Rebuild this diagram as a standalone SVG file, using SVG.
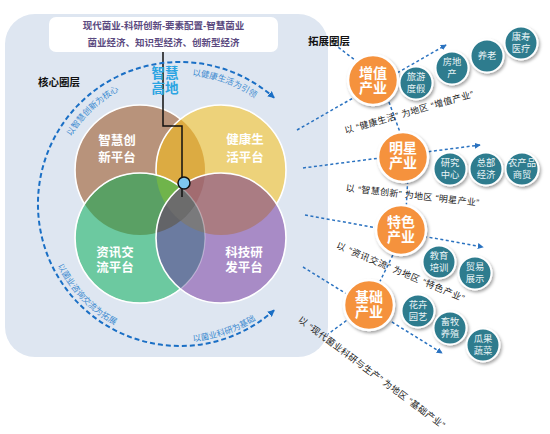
<svg xmlns="http://www.w3.org/2000/svg" width="550" height="434" viewBox="0 0 550 434">
<style>
.cn{font-family:'Liberation Sans','Noto Sans CJK SC',sans-serif}
.plat{font-size:12.5px;font-weight:bold;fill:#fff;text-anchor:middle}
.arct{font-size:8.4px;fill:#3d8bd0}
.ora{font-size:14px;font-weight:bold;fill:#fff;text-anchor:middle}
.tea{font-size:9.3px;fill:#eaf4f6;text-anchor:middle}
.lab{font-size:9px;fill:#222;text-anchor:middle}
.dash{fill:none;stroke:#2a72c0;stroke-width:1.5;stroke-dasharray:3 2.5}
.oc{fill:#f5923e;stroke:#fff;stroke-width:2.5;filter:url(#sh)}
.tc{fill:#2d7b8e;stroke:#fff;stroke-width:2;filter:url(#sh)}
.ring{fill:none;stroke:#fff;stroke-width:1.6}
</style>
<defs>
<filter id="sh" x="-30%" y="-30%" width="170%" height="170%"><feDropShadow dx="1.5" dy="2" stdDeviation="1.5" flood-color="#000" flood-opacity="0.35"/></filter>
<marker id="ah" viewBox="0 0 8 8" refX="7" refY="4" markerWidth="7" markerHeight="7" markerUnits="userSpaceOnUse" orient="auto-start-reverse"><path d="M0,0 L8,4 L0,8 z" fill="#1a6fc5"/></marker>
<marker id="ah2" viewBox="0 0 8 8" refX="7" refY="4" markerWidth="6" markerHeight="6" markerUnits="userSpaceOnUse" orient="auto"><path d="M0,0 L8,4 L0,8 z" fill="#2a72c0"/></marker>
<clipPath id="cB"><circle cx="140" cy="170" r="65"/></clipPath>
<clipPath id="cY"><circle cx="221" cy="170" r="65"/></clipPath>
<clipPath id="cG"><circle cx="140" cy="238" r="65"/></clipPath>
<clipPath id="cP"><circle cx="221" cy="238" r="65"/></clipPath>
<path id="tp1" d="M71,136.6 A129,129 0 0 1 147.6,79.4"/>
<path id="tp2" d="M192.2,75.5 A129,129 0 0 1 279.8,121.1"/>
<path id="tp3" d="M57.5,265.6 A138,138 0 0 0 157,339.9"/>
<path id="tp4" d="M193,341.5 A138,138 0 0 0 286.7,292.7"/>
</defs>
<rect width="550" height="434" fill="#fff"/>
<rect x="5" y="14" width="323" height="343" rx="30" fill="#dee6f1"/>

<g id="top-box">
<rect x="49" y="17" width="229" height="35" rx="7" fill="#fff"/>
<text class="cn" x="163.5" y="28.5" font-size="9.5" font-weight="bold" fill="#5b4a80" text-anchor="middle">现代菌业-科研创新-要素配置-智慧菌业</text>
<text class="cn" x="163.5" y="45.5" font-size="9.5" font-weight="bold" fill="#5b4a80" text-anchor="middle">菌业经济、知识型经济、创新型经济</text>
</g>

<g id="venn">
<circle cx="140" cy="170" r="65" fill="#b8937b" stroke="#fff" stroke-width="1.6"/>
<circle cx="221" cy="170" r="65" fill="#edd27a"/>
<circle cx="221" cy="170" r="65" fill="#dcab42" clip-path="url(#cB)"/>
<circle cx="221" cy="170" r="65" class="ring"/>
<circle cx="140" cy="238" r="65" fill="#6cc9a0"/>
<circle cx="140" cy="238" r="65" fill="#5aa064" clip-path="url(#cB)"/>
<circle cx="140" cy="238" r="65" fill="#70b44b" clip-path="url(#cY)"/>
<circle cx="140" cy="238" r="65" class="ring"/>
<circle cx="221" cy="238" r="65" fill="#a88bc6"/>
<circle cx="221" cy="238" r="65" fill="#aa7c83" clip-path="url(#cY)"/>
<g clip-path="url(#cB)"><circle cx="221" cy="238" r="65" fill="#a26c70" clip-path="url(#cY)"/></g>
<circle cx="221" cy="238" r="65" fill="#6b7ba0" clip-path="url(#cG)"/>
<g clip-path="url(#cY)"><circle cx="221" cy="238" r="65" fill="#7a7a7c" clip-path="url(#cG)"/></g>
<g clip-path="url(#cB)"><circle cx="221" cy="238" r="65" fill="#636468" clip-path="url(#cG)"/></g>
<g clip-path="url(#cB)"><g clip-path="url(#cY)"><circle cx="221" cy="238" r="65" fill="#6c6c6c" clip-path="url(#cG)"/></g></g>
<circle cx="221" cy="238" r="65" class="ring"/>
<circle cx="140" cy="238" r="65" fill="none" stroke="#fff" stroke-width="1.2" opacity="0.35"/>
</g>

<g id="platform-labels" class="cn">
<text class="plat" x="117" y="144.5">智慧创</text>
<text class="plat" x="117" y="161.5">新平台</text>
<text class="plat" x="245" y="143.5">健康生</text>
<text class="plat" x="245" y="161.5">活平台</text>
<text class="plat" x="115" y="256.5">资讯交</text>
<text class="plat" x="115" y="271.5">流平台</text>
<text class="plat" x="244" y="256.5">科技研</text>
<text class="plat" x="244" y="271.5">发平台</text>
</g>

<g id="connectors">
<polyline points="163,52 163,126 182,126 182,197" fill="none" stroke="#111" stroke-width="1.5"/>
<path d="M274.1,310.3 A142,142 0 1 1 274.1,97.7" fill="none" stroke="#1a6fc5" stroke-width="2" stroke-dasharray="5 3" marker-start="url(#ah)" marker-end="url(#ah)"/>
<line class="dash" x1="297" y1="130" x2="446" y2="45" marker-end="url(#ah2)"/>
<line class="dash" x1="303" y1="168" x2="480" y2="145" marker-end="url(#ah2)"/>
<line class="dash" x1="305" y1="215" x2="483" y2="247" marker-end="url(#ah2)"/>
<line class="dash" x1="303" y1="267" x2="442" y2="353" marker-end="url(#ah2)"/>
<polyline class="dash" points="334,44 381,80 409,157 405,230 369,304 328,334"/>
</g>

<g id="pivot"><circle cx="184" cy="183" r="6" fill="#7ec6ef" stroke="#111" stroke-width="1.5"/></g>

<g id="zhihui-gaodi" class="cn">
<text x="165" y="78" font-size="13.5" font-weight="bold" fill="#2aa4e2" text-anchor="middle">智慧</text>
<text x="165" y="93" font-size="13.5" font-weight="bold" fill="#2aa4e2" text-anchor="middle">高地</text>
</g>

<g id="arc-labels" class="cn">
<text class="arct"><textPath href="#tp1">以智慧创新为核心</textPath></text>
<text class="arct"><textPath href="#tp2">以健康生活为引领</textPath></text>
<text class="arct"><textPath href="#tp3">以菌业咨询交流为拓展</textPath></text>
<text class="arct"><textPath href="#tp4">以菌业科研为基础</textPath></text>
</g>

<g id="layer-labels" class="cn">
<text x="59" y="85.5" font-size="10.5" font-weight="bold" fill="#111" text-anchor="middle">核心圈层</text>
<text x="329" y="44.5" font-size="10.5" font-weight="bold" fill="#111" text-anchor="middle">拓展圈层</text>
</g>

<g id="zengzhi" class="cn">
<circle class="oc" cx="373" cy="80" r="25"/>
<text class="ora" x="373" y="78">增值</text>
<text class="ora" x="373" y="93">产业</text>
</g>
<g id="mingxing" class="cn">
<circle class="oc" cx="403" cy="157" r="25"/>
<text class="ora" x="403" y="153">明星</text>
<text class="ora" x="403" y="168">产业</text>
</g>
<g id="tese" class="cn">
<circle class="oc" cx="401" cy="230" r="25"/>
<text class="ora" x="401" y="227">特色</text>
<text class="ora" x="401" y="242">产业</text>
</g>
<g id="jichu" class="cn">
<circle class="oc" cx="369" cy="305" r="25"/>
<text class="ora" x="369" y="302">基础</text>
<text class="ora" x="369" y="317">产业</text>
</g>

<g id="lvyou" class="cn"><circle class="tc" cx="416" cy="83" r="16.5"/><text class="tea" x="416" y="80.3">旅游</text><text class="tea" x="416" y="92.3">度假</text></g>
<g id="fangdichan" class="cn"><circle class="tc" cx="452" cy="68" r="16.5"/><text class="tea" x="452" y="65.3">房地</text><text class="tea" x="452" y="77.3">产</text></g>
<g id="yanglao" class="cn"><circle class="tc" cx="487" cy="56" r="16.5"/><text class="tea" x="487" y="59.3">养老</text></g>
<g id="kangshou" class="cn"><circle class="tc" cx="521" cy="43" r="16.5"/><text class="tea" x="521" y="40.3">康寿</text><text class="tea" x="521" y="52.3">医疗</text></g>

<g id="yanjiu" class="cn"><circle class="tc" cx="450" cy="169" r="16.5"/><text class="tea" x="450" y="166.3">研究</text><text class="tea" x="450" y="178.3">中心</text></g>
<g id="zongbu" class="cn"><circle class="tc" cx="486" cy="169" r="16.5"/><text class="tea" x="486" y="166.3">总部</text><text class="tea" x="486" y="178.3">经济</text></g>
<g id="nongchanpin" class="cn"><circle class="tc" cx="522" cy="169" r="16.5"/><text class="tea" x="522" y="166.3">农产品</text><text class="tea" x="522" y="178.3">商贸</text></g>

<g id="jiaoyu" class="cn"><circle class="tc" cx="439" cy="262" r="16.5"/><text class="tea" x="439" y="259.3">教育</text><text class="tea" x="439" y="271.3">培训</text></g>
<g id="maoyi" class="cn"><circle class="tc" cx="475" cy="273" r="16.5"/><text class="tea" x="475" y="270.3">贸易</text><text class="tea" x="475" y="282.3">展示</text></g>

<g id="huahui" class="cn"><circle class="tc" cx="418" cy="311" r="16.5"/><text class="tea" x="418" y="308.3">花卉</text><text class="tea" x="418" y="320.3">园艺</text></g>
<g id="xumu" class="cn"><circle class="tc" cx="450" cy="328" r="16.5"/><text class="tea" x="450" y="325.3">畜牧</text><text class="tea" x="450" y="337.3">养殖</text></g>
<g id="guaguo" class="cn"><circle class="tc" cx="483" cy="345" r="16.5"/><text class="tea" x="483" y="342.3">瓜果</text><text class="tea" x="483" y="354.3">蔬菜</text></g>

<g id="industry-labels" class="cn">
<text class="lab" transform="translate(409,112.5) rotate(-16)" x="0" y="3" textLength="134" lengthAdjust="spacing">以 “健康生活” 为地区 “增值产业”</text>
<text class="lab" transform="translate(412.5,195.5) rotate(6.4)" x="0" y="3" textLength="134" lengthAdjust="spacing">以 “智慧创新” 为地区 “明星产业”</text>
<text class="lab" transform="translate(400.5,272) rotate(23)" x="0" y="3" textLength="138" lengthAdjust="spacing">以 “资讯交流” 为地区 “特色产业”</text>
<text class="lab" transform="translate(371.5,372.5) rotate(36.7)" x="0" y="3" textLength="180" lengthAdjust="spacing">以 “现代菌业科研与生产” 为地区 “基础产业”</text>
</g>
</svg>
